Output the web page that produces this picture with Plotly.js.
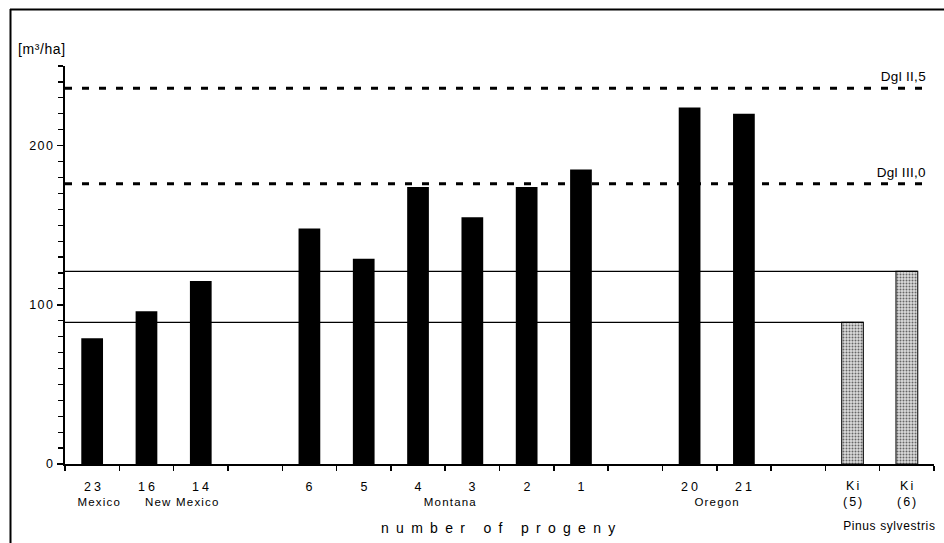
<!DOCTYPE html>
<html>
<head>
<meta charset="utf-8">
<script src="https://cdn.plot.ly/plotly-3.0.1.min.js"></script>
<style>
html,body{margin:0;padding:0;background:#fff;}
#chart .ytick text{letter-spacing:1.5px;}
</style>
</head>
<body>
<div id="chart" style="width:944px;height:543px;"></div>
<script>
// slot order along the x axis (gap slots separate the provenance groups)
const slots = ["23","16","14","gapA","6","5","4","3","2","1","gapB","20","21","gapC","Ki5","Ki6"];
// progeny bars (Douglas fir) and Pinus sylvestris reference bars
const progeny = ["23","16","14","6","5","4","3","2","1","20","21"];
const progenyLabels = ["23","16","14","6","5","4","3","2","1","20","21"];
const progenyVolume = [79, 96, 115, 148, 129, 174, 155, 174, 185, 224, 220];
const pinus = ["Ki5","Ki6"];
const pinusLabels = ["Ki<br>(5)","Ki<br>(6)"];
const pinusVolume = [89, 121];
// yield-table reference levels (Dgl = Douglas fir yield class)
const refNames = ["Dgl II,5","Dgl III,0"];
const refValues = [236, 176];
// provenance regions: name and position (slot index) under the labels
const regionNames = ["Mexico","New Mexico","Montana","Oregon","Pinus sylvestris"];
const regionPos = [0.13, 1.67, 6.6, 11.5, 14.68];

const FONT = "Liberation Sans, Arial, Helvetica, sans-serif";

const traces = [
  {type:"bar", x:progeny, y:progenyVolume, width:0.4,
   marker:{color:"#000", line:{color:"#000", width:0}}, hoverinfo:"x+y"},
  {type:"bar", x:pinus, y:pinusVolume, width:0.4,
   marker:{color:"#d0d0d0", line:{color:"#222", width:1.2},
     pattern:{shape:".", fgcolor:"#666", bgcolor:"#dcdcdc", size:3, solidity:0.35}},
   hoverinfo:"x+y"}
];

const annotations = [];
const spacing = [];
function addAnn(a, ls){ annotations.push(a); spacing.push(ls); }
const py = p => (464-p)/398;   // picture row -> paper fraction
const px = p => (p-65)/869;    // picture column -> paper fraction

// x-axis title (letter-spaced)
addAnn({text:"number of progeny", xref:"paper", yref:"paper", x:px(502), y:py(528),
  xanchor:"center", yanchor:"middle", showarrow:false, font:{family:FONT, size:14, color:"#000"}}, "7.3px");
// unit label
addAnn({text:"[m³/ha]", xref:"paper", yref:"paper", x:px(18), y:py(49),
  xanchor:"left", yanchor:"middle", showarrow:false, font:{family:FONT, size:14, color:"#000"}}, "0.6px");
// category labels
progeny.forEach((c,i)=>addAnn({text:progenyLabels[i], xref:"x", yref:"paper", x:slots.indexOf(c), xshift:1.5, y:py(487),
  xanchor:"center", yanchor:"middle", showarrow:false, font:{family:FONT, size:12.5, color:"#000"}}, "3px"));
pinus.forEach((c,i)=>addAnn({text:pinusLabels[i], xref:"x", yref:"paper", x:slots.indexOf(c), xshift:1, y:py(494),
  xanchor:"center", yanchor:"middle", showarrow:false, font:{family:FONT, size:12.5, color:"#000"}}, "2px"));
// region labels
regionNames.forEach((r,i)=>{
  const isPinus = i===regionNames.length-1;
  addAnn({text:r, xref:"x", yref:"paper", x:regionPos[i], y:py(isPinus?526:502),
    xanchor:"center", yanchor:"middle", showarrow:false, font:{family:FONT, size:isPinus?12:11.5, color:"#000"}},
    isPinus ? "0.6px" : "1.2px");
});
// reference level labels
refNames.forEach((n,i)=>addAnn({text:n, xref:"paper", yref:"y", x:px(927), y:refValues[i],
  xanchor:"right", yanchor:"bottom", yshift:2, showarrow:false, font:{family:FONT, size:13.5, color:"#000"}}, "0.3px"));

const shapes = [];
// dashed yield-table levels
refValues.forEach(v=>shapes.push({type:"line", xref:"paper", yref:"y", x0:0, x1:px(930), y0:v, y1:v,
  line:{color:"#000", width:3, dash:"7px,10px"}}));
// thin lines at the Pinus sylvestris levels, running to the right edge of each Ki bar
pinus.forEach((c,i)=>{
  const idx = slots.indexOf(c);
  shapes.push({type:"line", xref:"x", yref:"y", x0:-0.5, x1:idx+0.2, y0:pinusVolume[i], y1:pinusVolume[i],
    line:{color:"#000", width:1.3}});
});
// frame (top and left edges of the figure box)
shapes.push({type:"line", xref:"paper", yref:"paper", x0:px(10), x1:px(944), y0:py(9.5), y1:py(9.5),
  line:{color:"#000", width:2}});
shapes.push({type:"line", xref:"paper", yref:"paper", x0:px(10.5), x1:px(10.5), y0:py(9), y1:py(545),
  line:{color:"#000", width:2}});

const layout = {
  width:944, height:543,
  margin:{l:65, r:10, t:66, b:79, pad:0},
  paper_bgcolor:"#fff", plot_bgcolor:"#fff",
  showlegend:false, barmode:"overlay",
  font:{family:FONT, size:13, color:"#000"},
  xaxis:{type:"category", categoryorder:"array", categoryarray:slots, range:[-0.5, slots.length-0.5],
    showticklabels:false, ticks:"outside", tickson:"boundaries", ticklen:5, tickwidth:1.5, tickcolor:"#000",
    showline:true, linewidth:2, linecolor:"#000", showgrid:false, zeroline:false, fixedrange:true},
  yaxis:{range:[0,250], tickvals:[0,100,200], ticks:"outside", ticklen:6, tickwidth:1.5, tickcolor:"#000",
    ticklabelstandoff:0,
    minor:{dtick:10, tick0:0, ticks:"outside", ticklen:5, tickwidth:1.2, tickcolor:"#000", showgrid:false},
    showline:true, linewidth:2, linecolor:"#000", showgrid:false, zeroline:false,
    tickfont:{family:FONT, size:12.5, color:"#000"}, fixedrange:true},
  annotations:annotations,
  shapes:shapes
};

Plotly.newPlot("chart", traces, layout, {displayModeBar:false, staticPlot:true}).then(gd=>{
  gd.querySelectorAll("g.annotation").forEach(g=>{
    const i = +g.getAttribute("data-index");
    const t = g.querySelector("text.annotation-text");
    if (t && spacing[i]) t.style.letterSpacing = spacing[i];
  });
});
</script>
</body>
</html>
